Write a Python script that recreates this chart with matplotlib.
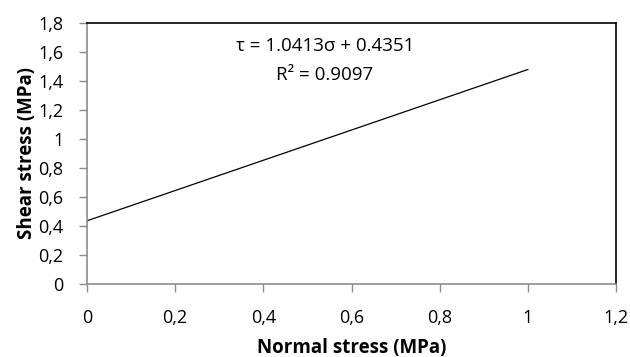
import matplotlib.pyplot as plt
from matplotlib.ticker import FuncFormatter

# trendline end points
normal_stress = [0.0, 1.0]
shear_stress = [0.4351, 1.4764]
eq_text = "τ = 1.0413σ + 0.4351"
r2_text = "R² = 0.9097"

xticks = [0, 0.2, 0.4, 0.6, 0.8, 1.0, 1.2]
yticks = [0, 0.2, 0.4, 0.6, 0.8, 1.0, 1.2, 1.4, 1.6, 1.8]

plt.rcParams['font.family'] = ['Open Sans', 'DejaVu Sans']

fig = plt.figure(figsize=(6.3, 3.57), dpi=100)
ax = fig.add_axes([87/630, 1 - 284/357, (616-87)/630, (284-22.5)/357])

ax.plot(normal_stress, shear_stress, color='black', linewidth=0.9)

ax.set_xlim(0, 1.2)
ax.set_ylim(0, 1.8)
ax.set_xticks(xticks)
ax.set_yticks(yticks)
fmt = FuncFormatter(lambda v, p: ('%g' % round(v, 2)).replace('.', ','))
ax.xaxis.set_major_formatter(fmt)
ax.yaxis.set_major_formatter(fmt)

for s in ['left', 'bottom']:
    ax.spines[s].set_color('#8c8c8c')
    ax.spines[s].set_linewidth(1.2)
for s in ['top', 'right']:
    ax.spines[s].set_color('black')
    ax.spines[s].set_linewidth(1.2)

ax.tick_params(axis='both', colors='#8c8c8c', labelcolor='black', labelsize=13, length=6, width=1)
ax.tick_params(axis='x', pad=12)
ax.tick_params(axis='y', pad=11)

ax.set_xlabel("Normal stress (MPa)", fontsize=13.5, fontweight='bold', labelpad=8)
ax.set_ylabel("Shear stress (MPa)", fontsize=13.5, fontweight='bold', labelpad=1)

ax.text(0.54, 1.64, eq_text, ha='center', va='center', fontsize=13.5)
ax.text(0.54, 1.44, r2_text, ha='center', va='center', fontsize=13.5)

fig.savefig('out.png', dpi=100)
